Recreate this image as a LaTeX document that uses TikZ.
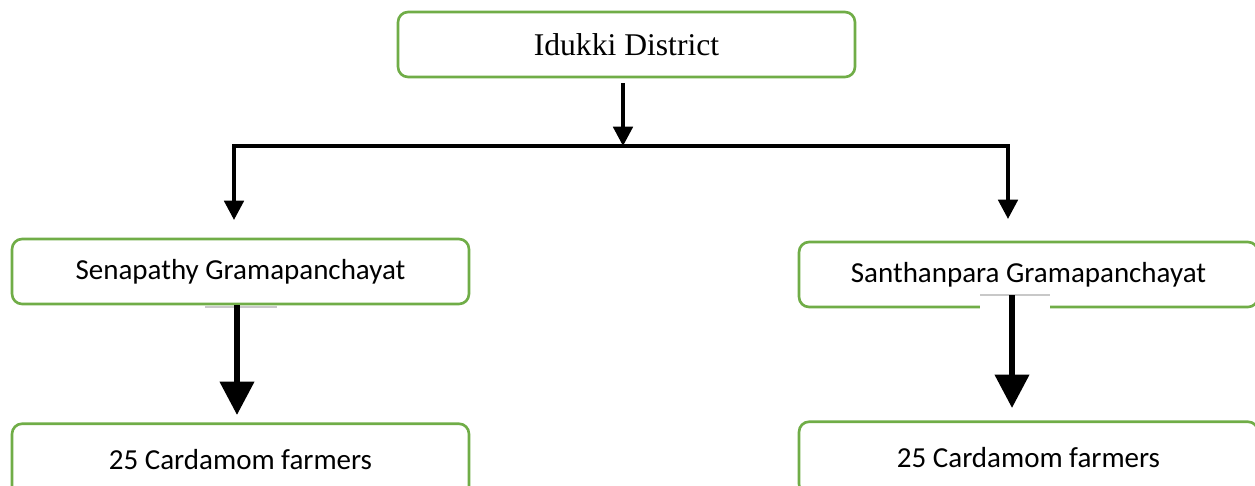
\documentclass[tikz,border=0pt]{standalone}
\usepackage{fontspec}
\setmainfont{Liberation Serif}
\newfontfamily\calib{Carlito}
\usetikzlibrary{arrows.meta}
\definecolor{boxgreen}{RGB}{112,173,71}
\definecolor{artgrey}{RGB}{200,200,200}
\tikzset{
  box/.style={draw=boxgreen, line width=1.5pt, rounded corners=0.2cm, fill=white,
    minimum width=9.14cm, minimum height=1.3cm, inner sep=0pt, align=center},
  serif/.style={font=\fontsize{18}{21}\selectfont},
  sans/.style={font=\calib\fontsize{16.5}{19}\selectfont},
  thinline/.style={line width=2.2pt, black},
  thinarr/.style={line width=2.2pt, black, -{Triangle[width=11pt, length=11pt]}},
  thickarr/.style={line width=3.4pt, black, -{Triangle[width=19pt, length=19pt]}},
}
\begin{document}
\begin{tikzpicture}[x=0.02cm, y=-0.02cm]
\useasboundingbox (0,0) rectangle (1255,485);
\clip (0,0) rectangle (1255,485);
\fill[white] (0,0) rectangle (1255,485);

% nodes
\node[box, serif] (top) at (626.5,44.5) {Idukki District};
\node[box, sans] (l1) at (240.5,271.5) {Senapathy Gramapanchayat};
\node[box, sans, minimum width=9.18cm] (r1) at (1028.5,274.5) {Santhanpara Gramapanchayat};
\node[box, sans, minimum height=1.45cm] (l2) at (240.5,460) {25 Cardamom farmers};
\node[box, sans, minimum width=9.18cm, minimum height=1.45cm] (r2) at (1028.5,458) {25 Cardamom farmers};

% junction coordinates
\coordinate (jm) at (623,146);
\coordinate (jl) at (234,146);
\coordinate (jr) at (1008,146);
\coordinate (topstart) at (623,83);
\coordinate (ltip) at (234,220);
\coordinate (rtip) at (1008,219);

% top arrow and branch line
\draw[thinarr] (topstart) -- (jm);
\draw[thinline, line cap=rect] (jl) -- (jr);
\draw[thinarr] (jl) -- (ltip);
\draw[thinarr] (jr) -- (rtip);

% artefacts near thick arrows
\draw[artgrey, line width=1.2pt] (205,307) -- (277,307);
\draw[white, line width=3pt] (980,307) -- (1050,307);
\draw[artgrey, line width=1.2pt] (980,295) -- (1050,295);

% thick arrows
\coordinate (lstart) at (237,305);
\coordinate (lend) at (237,415);
\coordinate (rstart) at (1012,295);
\coordinate (rend) at (1012,408);
\draw[thickarr] (lstart) -- (lend);
\draw[thickarr] (rstart) -- (rend);
\end{tikzpicture}
\end{document}
